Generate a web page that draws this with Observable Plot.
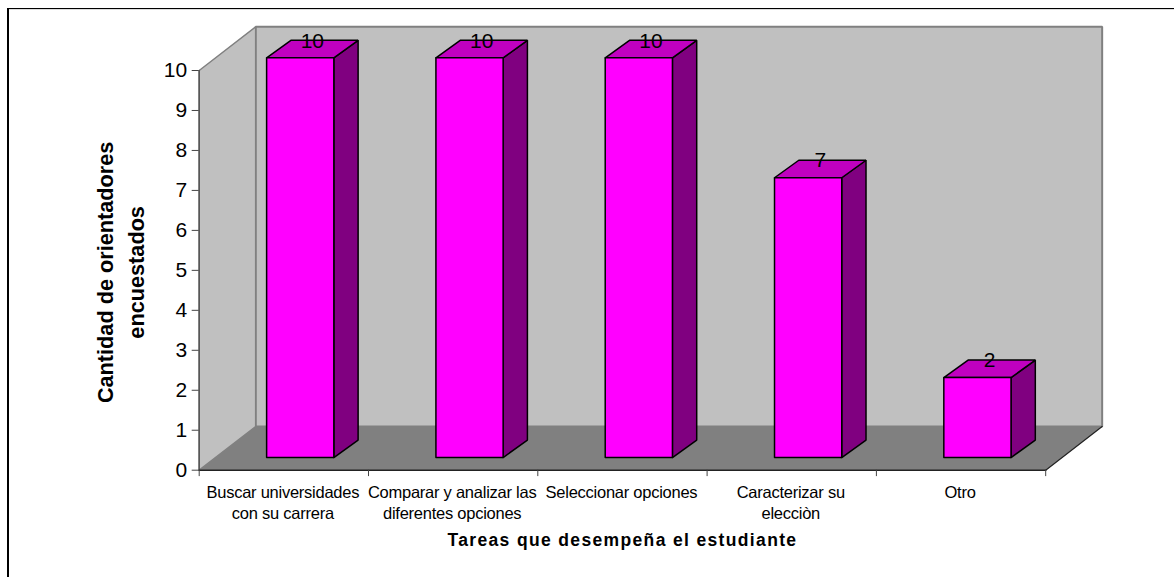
<!DOCTYPE html>
<html>
<head>
<meta charset="utf-8">
<script src="https://cdn.jsdelivr.net/npm/d3@7"></script>
<script src="https://cdn.jsdelivr.net/npm/@observablehq/plot@0.6"></script>
<style>
  html,body{margin:0;padding:0;background:#fff;width:1174px;height:577px;overflow:hidden}
  #frame{position:absolute;left:7px;top:8px;right:0;bottom:0;border-left:2px solid #000;border-top:1px solid #000;box-shadow:inset 0 1px 0 #ddd}
  #chart{position:absolute;left:0;top:0}
  svg{font-family:"Liberation Sans",Arial,sans-serif;background:transparent!important}
  .xcat text{letter-spacing:-0.25px}
  .xtitle text{letter-spacing:1.35px}
</style>
</head>
<body>
<div id="frame"></div>
<div id="chart"></div>
<script>
const categories = ["Buscar universidades\ncon su carrera","Comparar y analizar las\ndiferentes opciones","Seleccionar opciones","Caracterizar su\nelecciòn","Otro"];
const values = [10,10,10,7,2];
const yTicks = [0,1,2,3,4,5,6,7,8,9,10];
const xBoundaries = [0,1,2,3,4,5];
const xTitle = "Tareas que desempeña el estudiante";
const yTitle = "Cantidad de orientadores\nencuestados";

// Oblique projection: depth is expressed in data units of both axes.
const wallX = 0.3335, wallY = 1.093, yMax = 10;
const P = (u, v, d, dy = d) => ({x: u + d * wallX, y: v + dy * wallY});
const barW = 0.397, dFront = 0.29, dBackX = 0.72, dBackY = 0.69;

const poly = (id, pts) => pts.concat([pts[0]]).map(p => ({...p, id}));

const backWall = poly("b", [P(0,0,1),P(5,0,1),P(5,yMax,1),P(0,yMax,1)]);
const leftWall = poly("l", [P(0,0,0),P(0,0,1),P(0,yMax,1),P(0,yMax,0)]);
const floor = poly("f", [P(0,0,0),P(5,0,0),P(5,0,1),P(0,0,1)]);

const bars = values.map((v,i) => ({v, l:i+0.5-barW/2, r:i+0.5+barW/2, i}));
const fronts = bars.flatMap(b => poly("fr"+b.i,[P(b.l,0,dFront),P(b.r,0,dFront),P(b.r,b.v,dFront),P(b.l,b.v,dFront)]));
const sides = bars.flatMap(b => poly("s"+b.i,[P(b.r,0,dFront),P(b.r,0,dBackX,dBackY),P(b.r,b.v,dBackX,dBackY),P(b.r,b.v,dFront)]));
const tops = bars.flatMap(b => poly("t"+b.i,[P(b.l,b.v,dFront),P(b.r,b.v,dFront),P(b.r,b.v,dBackX,dBackY),P(b.l,b.v,dBackX,dBackY)]));
const shape = (data, fill, stroke, strokeWidth) => Plot.line(data,{x:"x",y:"y",z:"id",fill,stroke,strokeWidth,strokeLinejoin:"miter",curve:"linear"});

const labelPts = bars.map(b => ({...P(b.l+barW/2, b.v, (dFront+dBackX)/2, dFront), t:String(b.v)}));

const plot = Plot.plot({
  width:1174, height:577,
  marginLeft:198.7, marginRight:128.8, marginTop:70, marginBottom:107.3,
  style:{background:"transparent",overflow:"visible"},
  x:{type:"linear",domain:[0,5], axis:null},
  y:{type:"linear",domain:[0,10], axis:null},
  marks:[
    shape(backWall,"#c0c0c0","#808080",2),
    shape(leftWall,"#c0c0c0","#808080",1.5),
    shape(floor,"#808080","none",0),
    Plot.line([P(0,0,0),P(0,yMax,0)],{x:"x",y:"y",stroke:"#555",strokeWidth:1.5}),
    Plot.line([P(5,0,0),P(5,0,1)],{x:"x",y:"y",stroke:"#222",strokeWidth:1.2}),
    Plot.line([P(0,0,0),P(5,0,0)],{x:"x",y:"y",stroke:"#222",strokeWidth:1.5}),
    Plot.ruleX(xBoundaries,{x:d=>d,y1:0,y2:-0.16,stroke:"#444",strokeWidth:1}),
    Plot.axisY(yTicks,{anchor:"left",tickSize:7,tickPadding:5,fontSize:21,stroke:"#444",label:null,tickFormat:d=>String(d),fill:"#000"}),
    shape(sides,"#800080","#000",1.5),
    shape(tops,"#c000c0","#000",1.5),
    shape(fronts,"#ff00ff","#000",1.5),
    Plot.text(labelPts,{x:"x",y:"y",text:"t",dy:-17,fontSize:21,fill:"#000"}),
    Plot.text(categories,{x:(d,i)=>i+0.5,y:()=>0,dx:-1,dy:13,text:d=>d,lineAnchor:"top",lineHeight:1.27,fontSize:16.5,fill:"#000",className:"xcat"}),
    Plot.text([xTitle],{x:()=>2.5,y:()=>0,dy:70.5,text:d=>d,fontSize:17.5,fontWeight:"bold",fill:"#000",className:"xtitle"}),
    Plot.text([yTitle],{x:()=>0,y:()=>5,dx:-81,dy:2,text:d=>d,rotate:-90,fontSize:21.7,fontWeight:"bold",lineHeight:1.43,fill:"#000"})
  ]
});
document.getElementById("chart").appendChild(plot);
</script>
</body>
</html>
